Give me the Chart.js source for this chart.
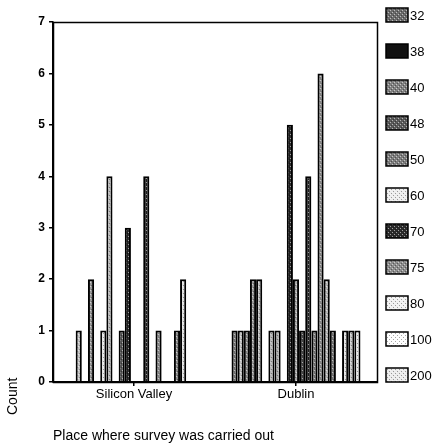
<!DOCTYPE html>
<html>
<head>
<meta charset="utf-8">
<script src="https://cdn.jsdelivr.net/npm/chart.js@4/dist/chart.umd.min.js"></script>
<style>
  html, body { margin: 0; padding: 0; background: #fff; }
  canvas { display: block; }
</style>
</head>
<body>
<canvas id="survey-chart" width="434" height="445"></canvas>
<script>
var categories = ['Silicon Valley', 'Dublin'];

// counts per cluster slot, left to right inside each place
var svCounts     = [0, 1, 0, 2, 0, 1, 4, 0, 1, 3, 0, 0, 4, 0, 1, 0, 0, 1, 2, 0, 0];
var dublinCounts = [1, 1, 1, 2, 2, 0, 1, 1, 0, 5, 2, 1, 4, 1, 6, 2, 1, 0, 1, 1, 1];

var legendLabels = ['32', '38', '40', '48', '50', '60', '70', '75', '80', '100', '200'];
var yTicks = [0, 1, 2, 3, 4, 5, 6, 7];

// greys for the bars and the legend swatches
var slotShades = ['#6e6e6e', '#c0c0c0', '#868686', '#989898', '#b8b8b8', '#ececec', '#bcbcbc',
                  '#b0b0b0', '#545454', '#222222', '#a8a8a8', '#444444', '#1e1e1e', '#707070',
                  '#828282', '#b4b4b4', '#747474', '#8c8c8c', '#e2e2e2', '#c6c6c6', '#ececec'];
var legendShades = ['#6a6a6a', '#111111', '#808080', '#5a5a5a', '#7c7c7c', '#eeeeee',
                    '#2c2c2c', '#8c8c8c', '#f2f2f2', '#ffffff', '#ececec'];

var fontFamily = "'Liberation Sans', Arial, sans-serif";

function stipple(shade) {
  var c = document.createElement('canvas');
  c.width = 4; c.height = 4;
  var g = c.getContext('2d');
  g.fillStyle = shade;
  g.fillRect(0, 0, 4, 4);
  g.fillStyle = 'rgba(255,255,255,0.55)';
  g.fillRect(0, 0, 1, 1);
  g.fillRect(2, 2, 1, 1);
  g.fillStyle = 'rgba(0,0,0,0.35)';
  g.fillRect(1, 3, 1, 1);
  g.fillRect(3, 1, 1, 1);
  return g.createPattern(c, 'repeat');
}

var datasets = [];
for (var idx = 0; idx < svCounts.length; idx++) {
  datasets.push({
    label: idx < legendLabels.length ? legendLabels[idx] : '',
    data: [svCounts[idx], dublinCounts[idx]],
    backgroundColor: stipple(slotShades[idx]),
    borderColor: '#000',
    borderWidth: 2,
    categoryPercentage: 0.796,
    barPercentage: 1
  });
}

// frame round the plot, the count label and the swatch legend on the right
var framePlugin = {
  id: 'frame',
  afterDraw: function(chart) {
    var ctx = chart.ctx;
    var a = chart.chartArea;
    ctx.save();
    ctx.strokeStyle = '#000';
    ctx.lineWidth = 1.5;
    ctx.strokeRect(a.left + 0.5, a.top + 0.5, a.right - a.left, a.bottom - a.top);

    ctx.fillStyle = '#000';
    ctx.font = '14px ' + fontFamily;
    ctx.textAlign = 'left';
    ctx.textBaseline = 'middle';
    ctx.save();
    ctx.translate(13, a.bottom + 33);
    ctx.rotate(-Math.PI / 2);
    ctx.fillText('Count', 0, 0);
    ctx.restore();

    ctx.font = '13px ' + fontFamily;
    for (var i = 0; i < legendLabels.length; i++) {
      var y = 15 + i * 36;
      ctx.fillStyle = legendShades[i] == '#111111' ? '#111' : stipple(legendShades[i]);
      ctx.fillRect(386, y - 7, 22, 14);
      ctx.lineWidth = 1.5;
      ctx.strokeRect(386, y - 7, 22, 14);
      ctx.fillStyle = '#000';
      ctx.fillText(legendLabels[i], 410, y + 1);
    }
    ctx.restore();
  }
};

var ctx = document.getElementById('survey-chart').getContext('2d');
var chart = new Chart(ctx, {
  type: 'bar',
  data: {
    labels: categories,
    datasets: datasets
  },
  options: {
    responsive: false,
    animation: false,
    devicePixelRatio: 1,
    layout: { padding: { top: 22, right: 57, bottom: 0, left: 0 } },
    plugins: {
      legend: { display: false },
      tooltip: { enabled: false }
    },
    scales: {
      x: {
        grid: { offset: false, drawOnChartArea: false, tickLength: 4, color: '#000', lineWidth: 1.5 },
        border: { color: '#000', width: 1.5 },
        ticks: { color: '#000', padding: 1, font: { family: fontFamily, size: 13 } },
        title: {
          display: true,
          text: 'Place where survey was carried out',
          align: 'start',
          color: '#000',
          font: { family: fontFamily, size: 14 },
          padding: { top: 0, bottom: 0 }
        },
        afterFit: function(scale) { scale.height = 63; }
      },
      y: {
        min: 0,
        max: 7,
        afterBuildTicks: function(scale) {
          scale.ticks = yTicks.map(function(v) { return { value: v }; });
        },
        grid: { drawOnChartArea: false, tickLength: 4, color: '#000', lineWidth: 1.5 },
        border: { color: '#000', width: 1.5 },
        ticks: { color: '#000', padding: 4, font: { family: fontFamily, size: 12, weight: 'bold' } },
        afterFit: function(scale) { scale.width = 53; }
      }
    }
  },
  plugins: [framePlugin]
});
</script>
</body>
</html>
